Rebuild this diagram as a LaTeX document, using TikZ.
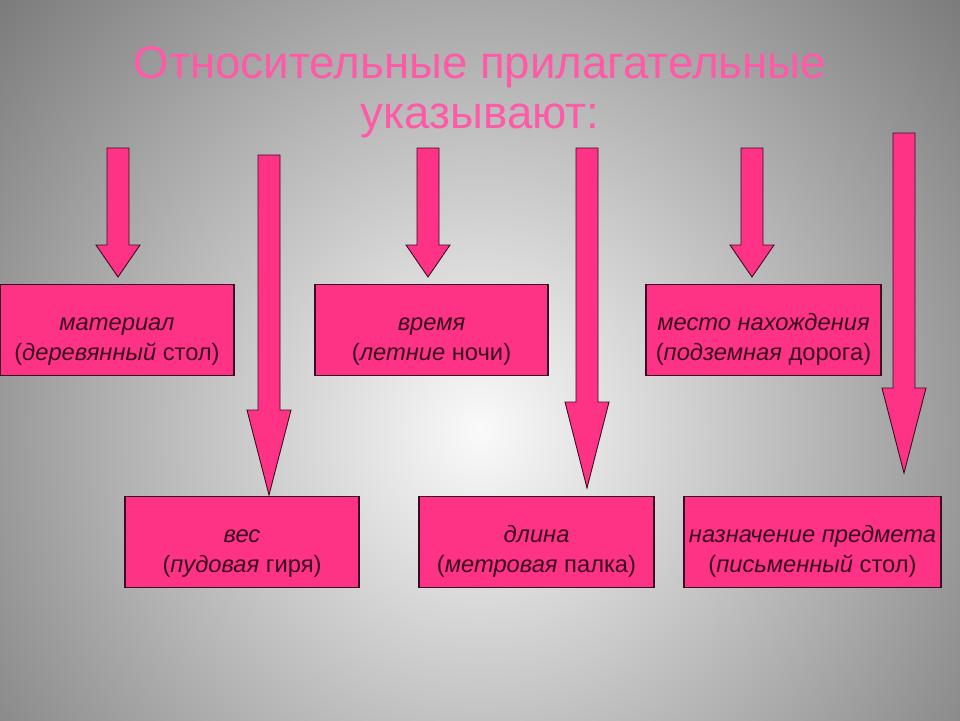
\documentclass[tikz,border=0pt]{standalone}
\usepackage{fontspec}
\setmainfont{Liberation Sans}
\definecolor{pk}{HTML}{FF3385}
\definecolor{ttl}{HTML}{FF5AA8}
\definecolor{txt}{HTML}{3A0A20}
\newcommand{\tstrut}{\rule{0pt}{20pt}}
\begin{document}
\begin{tikzpicture}[x=0.02cm,y=-0.02cm,
  box/.style={draw=txt,line width=0.6pt,fill=pk,minimum width=#1*0.02cm,minimum height=91*0.02cm,inner sep=0pt,align=center,text=txt,font=\fontsize{13.5}{17}\selectfont},
  barrow/.style={fill=pk,draw=txt,line width=0.5pt}]
\useasboundingbox (0,0) rectangle (960,720);
\begin{scope}
\clip (0,0) rectangle (960,720);
\shade[inner color=white!96!gray,outer color=gray!80!black] (-260,-340) rectangle (1220,1200);
\end{scope}
\node[text=ttl,font=\fontsize{26}{30}\selectfont] (t1) at (480,67) {Относительные прилагательные};
\node[text=ttl,font=\fontsize{26}{30}\selectfont] (t2) at (480,121) {указывают:};
\foreach \c/\t/\n/\p in {118/148/245/277, 269/155/410/495, 428/148/245/277, 587/148/402/488, 752/148/245/277, 904/133/388/473}{
  \draw[barrow] (\c-11,\t) -- (\c+11,\t) -- (\c+11,\n) -- (\c+22,\n) -- (\c,\p) -- (\c-22,\n) -- (\c-11,\n) -- cycle;
}
\node[box=234] (b1) at (117,330) {\tstrut\textit{материал}\\(\textit{деревянный} стол)};
\node[box=233] (b2) at (431.5,330) {\tstrut\textit{время}\\(\textit{летние} ночи)};
\node[box=235] (b3) at (763.5,330) {\tstrut\textit{место нахождения}\\(\textit{подземная} дорога)};
\node[box=234] (b4) at (242,542) {\tstrut\textit{вес}\\(\textit{пудовая} гиря)};
\node[box=235] (b5) at (536.5,542) {\tstrut\textit{длина}\\(\textit{метровая} палка)};
\node[box=257] (b6) at (812.5,542) {\tstrut\textit{назначение предмета}\\(\textit{письменный} стол)};
\end{tikzpicture}
\end{document}
